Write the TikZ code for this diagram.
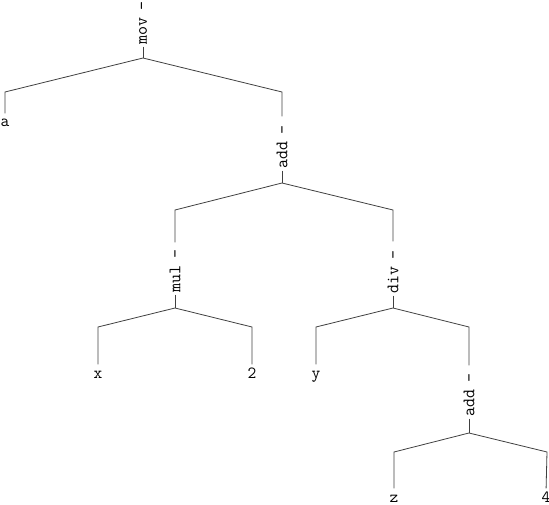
\documentclass[tikz,border=0pt]{standalone}
\usepackage{fontspec}
\usetikzlibrary{positioning}
\tikzset{
  op/.style={rotate=90, inner sep=0pt, font=\ttfamily\fontsize{17.5}{17.5}\selectfont},
  leaf/.style={anchor=base, inner sep=0pt, text height=10pt, font=\ttfamily\fontsize{17}{17}\selectfont},
  edge/.style={line width=0.8pt, black!75},
}

\begin{document}
\begin{tikzpicture}[x=1pt, y=-1pt]
    \useasboundingbox (0,0) rectangle (549,505);
    % operators
    \node (mov) [op] at (143,23) {mov\hspace{7pt}-};
    \node (addA) [op] at (282,147) {add\hspace{7pt}-};
    \node (mul) [op] at (175,271) {mul\hspace{7pt}-};
    \node (div) [op] at (393,272) {div\hspace{7pt}-};
    \node (addB) [op] at (469,395) {add\hspace{7pt}-};
    % leaves
    \node (a) [leaf] at (5,127) {a};
    \node (x) [leaf] at (98,378) {x};
    \node (two) [leaf] at (252,378) {2};
    \node (y) [leaf] at (316,378) {y};
    \node (z) [leaf] at (394,502) {z};
    \node (four) [leaf] at (546,502) {4};
    % branch points and corners
    \coordinate (movB) at (143,58);
    \coordinate (movL) at (5,92);
    \coordinate (movR) at (282,92);
    \coordinate (addAB) at (282,183);
    \coordinate (addAL) at (175,210);
    \coordinate (addAR) at (393,210);
    \coordinate (mulB) at (175,308);
    \coordinate (mulL) at (98,327);
    \coordinate (mulR) at (252,327);
    \coordinate (divB) at (393,308);
    \coordinate (divL) at (316,327);
    \coordinate (divR) at (469,327);
    \coordinate (addBB) at (469,433);
    \coordinate (addBL) at (394,452);
    \coordinate (addBR) at (547,452);

    \draw [edge, shorten <=2pt] (mov.west) -- (movB);
    \draw [edge, shorten >=3.5pt] (movB) -- (movL) -- (a.north);
    \draw [edge, shorten >=9pt] (movB) -- (movR) -- (addA.east);
    \draw [edge, shorten <=2pt] (addA.west) -- (addAB);
    \draw [edge, shorten >=7pt] (addAB) -- (addAL) -- (mul.east);
    \draw [edge, shorten >=9pt] (addAB) -- (addAR) -- (div.east);
    \draw [edge, shorten <=2pt] (mul.west) -- (mulB);
    \draw [edge, shorten >=3.5pt] (mulB) -- (mulL) -- (x.north);
    \draw [edge, shorten >=3.5pt] (mulB) -- (mulR) -- (two.north);
    \draw [edge, shorten <=2pt] (div.west) -- (divB);
    \draw [edge, shorten >=3.5pt] (divB) -- (divL) -- (y.north);
    \draw [edge, shorten >=8pt] (divB) -- (divR) -- (addB.east);
    \draw [edge, shorten <=2pt] (addB.west) -- (addBB);
    \draw [edge, shorten >=3.5pt] (addBB) -- (addBL) -- (z.north);
    \draw [edge, shorten >=3.5pt] (addBB) -- (addBR) -- (four.north);
\end{tikzpicture}
\end{document}
